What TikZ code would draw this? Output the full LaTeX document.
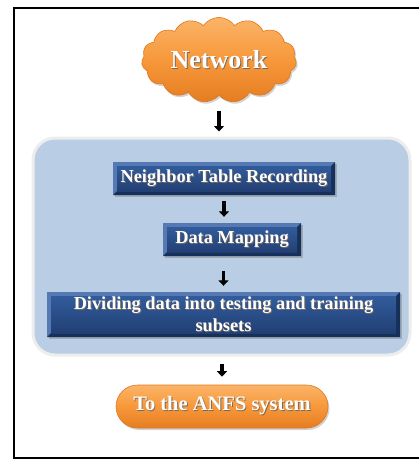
\documentclass[tikz,border=0pt]{standalone}
\usepackage{fontspec}
\setmainfont{Liberation Serif}
\usetikzlibrary{shapes.symbols,shadows,arrows.meta}

\definecolor{frameblack}{HTML}{000000}
\definecolor{panelblue}{HTML}{B9CDE5}
\definecolor{panelrim}{HTML}{EDEDED}
\definecolor{bevellight}{HTML}{5679B3}
\definecolor{beveldark}{HTML}{17305A}
\definecolor{boxtop}{HTML}{315C9C}
\definecolor{boxbottom}{HTML}{223F74}
\definecolor{orangetop}{HTML}{FBB468}
\definecolor{orangemid}{HTML}{F7983A}
\definecolor{orangebottom}{HTML}{E57D22}
\definecolor{orangerim}{HTML}{E0761B}
\definecolor{textshade}{HTML}{3A2A1A}

% white label with a soft dark shadow behind it
\newcommand{\shadowed}[1]{\leavevmode\rlap{\hspace{0.9pt}\raisebox{-0.9pt}{\textcolor{textshade!70}{#1}}}#1}

\tikzset{
  x=1pt, y=-1pt,
  stepbox/.style={
    minimum height=33pt, inner sep=0pt, align=center, text=white,
    font=\bfseries\fontsize{18.3}{22}\selectfont,
    drop shadow={shadow xshift=1.5pt, shadow yshift=-1.5pt, opacity=0.45},
    path picture={
      \fill[bevellight] (path picture bounding box.south west) rectangle (path picture bounding box.north east);
      \fill[beveldark] (path picture bounding box.south west) -- (path picture bounding box.south east)
        -- (path picture bounding box.north east) -- ([shift={(-4pt,-4pt)}]path picture bounding box.north east)
        -- ([shift={(-4pt,4pt)}]path picture bounding box.south east) -- ([shift={(4pt,4pt)}]path picture bounding box.south west) -- cycle;
      \shade[top color=boxtop, bottom color=boxbottom]
        ([shift={(4pt,4pt)}]path picture bounding box.south west) rectangle ([shift={(-4pt,-4pt)}]path picture bounding box.north east);
    }
  },
  flowarrow/.style={line width=3.6pt, -{Triangle[width=10pt,length=5.5pt]}, black},
  orangefill/.style={top color=orangetop, bottom color=orangebottom, middle color=orangemid, draw=orangerim, line width=0.6pt}
}

\begin{document}
\begin{tikzpicture}
  \useasboundingbox (0,0) rectangle (419,461);
  \clip (0,0) rectangle (419,461);

  % outer frame
  \draw[line width=2.6pt, frameblack] (14,8) rectangle (430,458);

  % cloud at the top
  \node[cloud, cloud puffs=15, cloud puff arc=110, aspect=1.9,
        minimum width=155pt, minimum height=84pt, inner sep=0pt,
        orangefill, drop shadow={shadow xshift=1.5pt, shadow yshift=-2pt, opacity=0.35},
        text=white, font=\bfseries\fontsize{26}{30}\selectfont]
    (net) at (219,60) {\shadowed{Network}};

  % light blue panel holding the processing steps
  \node[draw=panelrim, line width=3pt, fill=panelblue, rounded corners=22pt,
        minimum width=377pt, minimum height=217pt, inner sep=0pt]
    (panel) at (221.5,246.5) {};

  \node[stepbox, minimum width=222pt] (ntr) at (224,178.5) {\shadowed{Neighbor Table Recording}};
  \node[stepbox, minimum width=138pt] (map) at (232,239.5) {\shadowed{Data Mapping}};
  \node[stepbox, minimum width=353pt, minimum height=45pt] (div) at (223.5,314.5)
    {\shadowed{Dividing data into testing and training}\\\shadowed{subsets}};

  % orange terminal
  \node[orangefill, rounded corners=21.5pt, minimum width=212pt, minimum height=43pt, inner sep=0pt,
        drop shadow={shadow xshift=1.5pt, shadow yshift=-2pt, opacity=0.35},
        text=white, font=\bfseries\fontsize{20.5}{24}\selectfont]
    (anfs) at (222,406.5) {\shadowed{To the ANFS system}};

  % connectors
  \draw[flowarrow, shorten <=15pt, shorten >=5pt] (net.south) -- (net.south |- panel.north);
  \draw[flowarrow, shorten <=6pt, shorten >=6pt] (ntr.south) -- (ntr.south |- map.north);
  \draw[flowarrow, shorten <=15pt, shorten >=6pt] (div.north |- map.south) -- (div.north);
  \draw[flowarrow, shorten <=7pt, shorten >=8pt] (anfs.north |- panel.south) -- (anfs.north);
\end{tikzpicture}
\end{document}
